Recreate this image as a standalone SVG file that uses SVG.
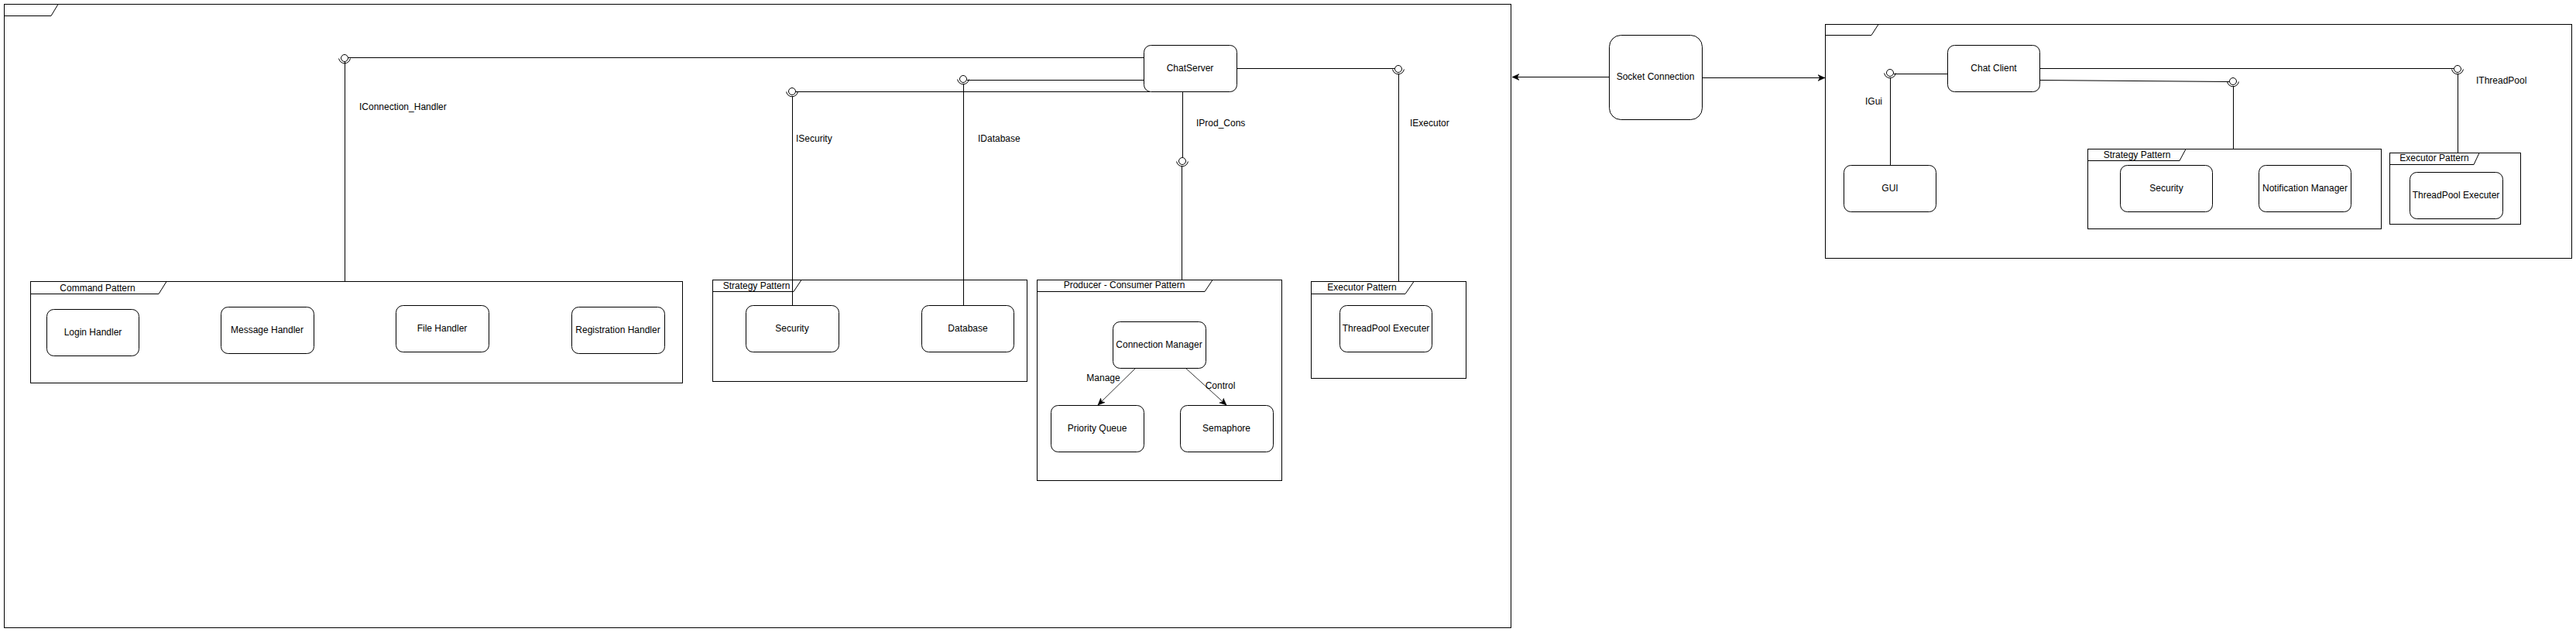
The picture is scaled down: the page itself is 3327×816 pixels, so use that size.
<svg xmlns="http://www.w3.org/2000/svg" width="3327" height="816" viewBox="0 0 3327 816">
<style>
text{font-family:"Liberation Sans",Arial,sans-serif;font-size:12px;fill:#000}
.c{text-anchor:middle;dominant-baseline:central}
.l{dominant-baseline:central}
.box{fill:#fff;stroke:#000;stroke-width:1}
.frame{fill:none;stroke:#000;stroke-width:1}
.ln{fill:none;stroke:#000;stroke-width:1}
.ar{fill:none;stroke:#333;stroke-width:1}
</style>
<defs>
<marker id="arr" viewBox="0 0 10 10" refX="9" refY="5" markerWidth="10" markerHeight="10" markerUnits="userSpaceOnUse" orient="auto">
<path d="M0,1 L9,5 L0,9 L2.5,5 Z" fill="#000" stroke="#000" stroke-width="0.5"/>
</marker>
<g id="lolli">
<circle cx="0" cy="0" r="4.5" fill="#fff" stroke="#000" stroke-width="1"/>
<path d="M-7.4,0.5 A7.5,7.5 0 0 0 7.4,0.5" fill="none" stroke="#000" stroke-width="1"/>
</g>
</defs>
<rect width="3327" height="816" fill="#fff"/>

<g id="server-frame">
<rect class="frame" x="5.5" y="5.5" width="1946" height="805"/>
<path class="frame" d="M5.5,20.5 H66 L75,5.5"/>
</g>
<g id="client-frame">
<rect class="frame" x="2357.5" y="31.5" width="964" height="302"/>
<path class="frame" d="M2357.5,45.5 H2417 L2426,31.5"/>
</g>

<g id="connectors">
<!-- IConnection_Handler -->
<path class="ln" d="M450,74.5 H1477"/>
<path class="ln" d="M445.5,80 V363"/>
<!-- ISecurity -->
<path class="ln" d="M1028,118.5 H1485"/>
<path class="ln" d="M1023.5,124 V394"/>
<!-- IDatabase -->
<path class="ln" d="M1249,103.5 H1477"/>
<path class="ln" d="M1244.5,108 V394"/>
<!-- IProd_Cons -->
<path class="ln" d="M1527.5,118 V203"/>
<path class="ln" d="M1526.5,214 V361"/>
<!-- IExecutor -->
<path class="ln" d="M1597,88.5 H1801"/>
<path class="ln" d="M1806.5,95 V363"/>
<!-- Producer/Consumer arrows -->
<path class="ar" d="M1467,475 L1418,523" marker-end="url(#arr)"/>
<path class="ar" d="M1531,475 L1584,523" marker-end="url(#arr)"/>
<!-- Socket connection arrows -->
<path class="ln" d="M2078,99.5 H1953" marker-end="url(#arr)"/>
<path class="ln" d="M2198,100.5 H2357" marker-end="url(#arr)"/>
<!-- IGui -->
<path class="ln" d="M2446,95.5 H2515"/>
<path class="ln" d="M2441.5,100 V213"/>
<!-- Client strategy -->
<path class="ln" d="M2634,103.5 L2879,105.5"/>
<path class="ln" d="M2884.5,111 V192"/>
<!-- IThreadPool -->
<path class="ln" d="M2634,88.5 H3169"/>
<path class="ln" d="M3174.5,95 V197"/>
<!-- lollipops -->
<use href="#lolli" x="445" y="75"/>
<use href="#lolli" x="1023" y="118"/>
<use href="#lolli" x="1244" y="102"/>
<use href="#lolli" x="1527" y="208"/>
<use href="#lolli" x="1806" y="89"/>
<use href="#lolli" x="2441" y="94"/>
<use href="#lolli" x="2884" y="105"/>
<use href="#lolli" x="3174" y="89"/>
<!-- interface labels -->
<text class="l" x="464" y="138">IConnection_Handler</text>
<text class="l" x="1028" y="179">ISecurity</text>
<text class="l" x="1263" y="179">IDatabase</text>
<text class="l" x="1545" y="159">IProd_Cons</text>
<text class="l" x="1821" y="159">IExecutor</text>
<text class="l" x="2409" y="131">IGui</text>
<text class="l" x="3198" y="104">IThreadPool</text>
<text class="c" x="1425" y="488">Manage</text>
<text class="c" x="1576" y="498">Control</text>
</g>

<g id="command-pattern">
<rect class="frame" x="39.5" y="363.5" width="842" height="131"/>
<path class="frame" d="M39.5,379.5 H205 L215,363.5"/>
<text class="c" x="126" y="372">Command Pattern</text>
</g>
<g id="login-handler"><rect class="box" x="60.5" y="399.5" width="119" height="60" rx="9"/><text class="c" x="120" y="429">Login Handler</text></g>
<g id="message-handler"><rect class="box" x="285.5" y="396.5" width="120" height="60" rx="9"/><text class="c" x="345" y="426">Message Handler</text></g>
<g id="file-handler"><rect class="box" x="511.5" y="394.5" width="120" height="60" rx="9"/><text class="c" x="571" y="424">File Handler</text></g>
<g id="registration-handler"><rect class="box" x="738.5" y="396.5" width="120" height="60" rx="9"/><text class="c" x="798" y="426">Registration Handler</text></g>

<g id="strategy-pattern-server">
<rect class="frame" x="920.5" y="361.5" width="406" height="131"/>
<path class="frame" d="M920.5,376.5 H1025 L1035,361.5"/>
<text class="c" x="977" y="369">Strategy Pattern</text>
</g>
<g id="security-server"><rect class="box" x="963.5" y="394.5" width="120" height="60" rx="9"/><text class="c" x="1023" y="424">Security</text></g>
<g id="database"><rect class="box" x="1190.5" y="394.5" width="119" height="60" rx="9"/><text class="c" x="1250" y="424">Database</text></g>

<g id="producer-consumer-pattern">
<rect class="frame" x="1339.5" y="361.5" width="316" height="259"/>
<path class="frame" d="M1339.5,376.5 H1556 L1566,361.5"/>
<text class="c" x="1452" y="368">Producer - Consumer Pattern</text>
</g>
<g id="connection-manager"><rect class="box" x="1437.5" y="415.5" width="120" height="60" rx="9"/><text class="c" x="1497" y="445">Connection Manager</text></g>
<g id="priority-queue"><rect class="box" x="1357.5" y="523.5" width="120" height="60" rx="9"/><text class="c" x="1417" y="553">Priority Queue</text></g>
<g id="semaphore"><rect class="box" x="1524.5" y="523.5" width="120" height="60" rx="9"/><text class="c" x="1584" y="553">Semaphore</text></g>

<g id="executor-pattern-server">
<rect class="frame" x="1693.5" y="363.5" width="200" height="125"/>
<path class="frame" d="M1693.5,379.5 H1815 L1826,363.5"/>
<text class="c" x="1759" y="371">Executor Pattern</text>
</g>
<g id="threadpool-executer-server"><rect class="box" x="1730.5" y="394.5" width="119" height="60" rx="9"/><text class="c" x="1790" y="424">ThreadPool Executer</text></g>

<g id="chatserver"><rect class="box" x="1477.5" y="58.5" width="120" height="60" rx="9"/><text class="c" x="1537" y="88">ChatServer</text></g>
<g id="socket-connection"><rect class="box" x="2078.5" y="45.5" width="120" height="109" rx="15"/><text class="c" x="2138" y="99">Socket Connection</text></g>
<g id="chat-client"><rect class="box" x="2515.5" y="58.5" width="119" height="60" rx="9"/><text class="c" x="2575" y="88">Chat Client</text></g>
<g id="gui"><rect class="box" x="2381.5" y="213.5" width="119" height="60" rx="9"/><text class="c" x="2441" y="243">GUI</text></g>

<g id="strategy-pattern-client">
<rect class="frame" x="2696.5" y="192.5" width="379" height="103"/>
<path class="frame" d="M2696.5,207.5 H2815 L2823,192.5"/>
<text class="c" x="2760" y="200">Strategy Pattern</text>
</g>
<g id="security-client"><rect class="box" x="2738.5" y="213.5" width="119" height="60" rx="9"/><text class="c" x="2798" y="243">Security</text></g>
<g id="notification-manager"><rect class="box" x="2917.5" y="213.5" width="119" height="60" rx="9"/><text class="c" x="2977" y="243">Notification Manager</text></g>

<g id="executor-pattern-client">
<rect class="frame" x="3086.5" y="197.5" width="169" height="92" stroke-width="1.5"/>
<path class="frame" d="M3086.5,212.5 H3195 L3202,197.5" stroke-width="1.5"/>
<text class="c" x="3144" y="204">Executor Pattern</text>
</g>
<g id="threadpool-executer-client"><rect class="box" x="3112.5" y="222.5" width="120" height="60" rx="9"/><text class="c" x="3172" y="252">ThreadPool Executer</text></g>
</svg>
